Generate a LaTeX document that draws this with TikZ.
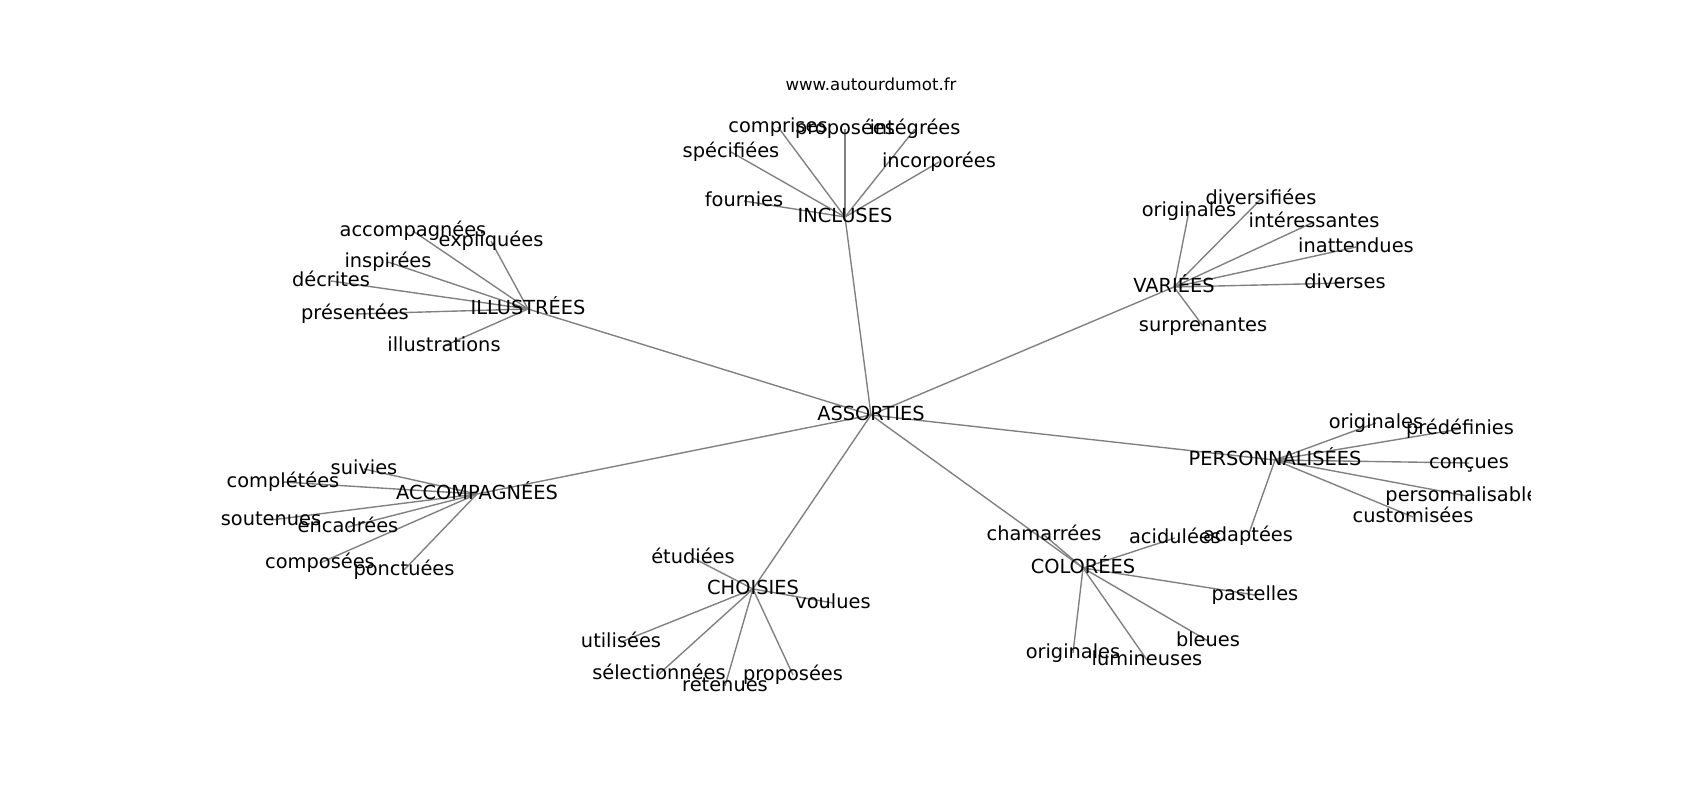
\documentclass[tikz,border=0pt]{standalone}
\usepackage{fontspec}
\setmainfont{DejaVu Sans}
\usetikzlibrary{backgrounds}

\begin{document}
\begin{tikzpicture}[x=0.01in, y=-0.01in,
    mot/.style={inner sep=0pt, text height=12.1pt, text depth=3.5pt, font=\fontsize{14}{17}\selectfont},
    lien/.style={color=gray, line width=1pt}]
  \useasboundingbox (0, 0) rectangle (1700, 800);
  \node(titre) at (871, 84) {\fontsize{12}{14}\selectfont www.autourdumot.fr};
  \begin{scope}
    \clip (212.5, 96) rectangle (1530, 712);
    % centre
    \node[mot](assorties) at (871, 415) {ASSORTIES};
    % incluses
    \node[mot](incluses) at (845, 217) {INCLUSES};
    \node[mot](comprises) at (778, 127) {comprises};
    \node[mot](proposeesA) at (845, 129) {proposées};
    \node[mot](integrees) at (915, 129) {intégrées};
    \node[mot](specifiees) at (731, 152) {spécifiées};
    \node[mot](incorporees) at (939, 162) {incorporées};
    \node[mot](fournies) at (744, 201) {fournies};
    % illustrees
    \node[mot](illustrees) at (528, 309) {ILLUSTRÉES};
    \node[mot](accompagneesA) at (413, 231) {accompagnées};
    \node[mot](expliquees) at (491, 241) {expliquées};
    \node[mot](inspirees) at (388, 262) {inspirées};
    \node[mot](decrites) at (331, 281) {décrites};
    \node[mot](presentees) at (355, 314) {présentées};
    \node[mot](illustrations) at (444, 346) {illustrations};
    % variees
    \node[mot](variees) at (1174, 287) {VARIÉES};
    \node[mot](originalesA) at (1189, 211) {originales};
    \node[mot](diversifiees) at (1261, 199) {diversifiées};
    \node[mot](interessantes) at (1314, 222) {intéressantes};
    \node[mot](inattendues) at (1356, 247) {inattendues};
    \node[mot](diverses) at (1345, 283) {diverses};
    \node[mot](surprenantes) at (1203, 326) {surprenantes};
    % personnalisees
    \node[mot](personnalisees) at (1275, 460) {PERSONNALISÉES};
    \node[mot](originalesB) at (1376, 423) {originales};
    \node[mot](predefinies) at (1460, 429) {prédéfinies};
    \node[mot](concues) at (1469, 463) {conçues};
    \node[mot](personnalisables) at (1467, 496) {personnalisables};
    \node[mot](customisees) at (1413, 517) {customisées};
    \node[mot](adaptees) at (1248, 536) {adaptées};
    % accompagnees
    \node[mot](accompagneesB) at (477, 494) {ACCOMPAGNÉES};
    \node[mot](suivies) at (364, 469) {suivies};
    \node[mot](completees) at (283, 482) {complétées};
    \node[mot](soutenues) at (271, 520) {soutenues};
    \node[mot](encadrees) at (348, 527) {encadrées};
    \node[mot](composees) at (320, 563) {composées};
    \node[mot](ponctuees) at (404, 570) {ponctuées};
    % choisies
    \node[mot](choisies) at (753, 589) {CHOISIES};
    \node[mot](etudiees) at (693, 558) {étudiées};
    \node[mot](voulues) at (833, 603) {voulues};
    \node[mot](utilisees) at (621, 642) {utilisées};
    \node[mot](selectionnees) at (659, 674) {sélectionnées};
    \node[mot](retenues) at (725, 686) {retenues};
    \node[mot](proposeesB) at (793, 675) {proposées};
    % colorees
    \node[mot](colorees) at (1083, 568) {COLORÉES};
    \node[mot](chamarrees) at (1044, 535) {chamarrées};
    \node[mot](acidulees) at (1175, 538) {acidulées};
    \node[mot](pastelles) at (1255, 595) {pastelles};
    \node[mot](bleues) at (1208, 641) {bleues};
    \node[mot](originalesC) at (1073, 653) {originales};
    \node[mot](lumineuses) at (1147, 660) {lumineuses};
  \end{scope}
  \begin{pgfonlayer}{background}
    \draw[lien] (assorties.center)--(incluses.center);
    \draw[lien] (assorties.center)--(illustrees.center);
    \draw[lien] (assorties.center)--(variees.center);
    \draw[lien] (assorties.center)--(personnalisees.center);
    \draw[lien] (assorties.center)--(accompagneesB.center);
    \draw[lien] (assorties.center)--(choisies.center);
    \draw[lien] (assorties.center)--(colorees.center);
    \draw[lien] (incluses.center)--(comprises.center);
    \draw[lien] (incluses.center)--(proposeesA.center);
    \draw[lien] (incluses.center)--(integrees.center);
    \draw[lien] (incluses.center)--(specifiees.center);
    \draw[lien] (incluses.center)--(incorporees.center);
    \draw[lien] (incluses.center)--(fournies.center);
    \draw[lien] (illustrees.center)--(accompagneesA.center);
    \draw[lien] (illustrees.center)--(expliquees.center);
    \draw[lien] (illustrees.center)--(inspirees.center);
    \draw[lien] (illustrees.center)--(decrites.center);
    \draw[lien] (illustrees.center)--(presentees.center);
    \draw[lien] (illustrees.center)--(illustrations.center);
    \draw[lien] (variees.center)--(originalesA.center);
    \draw[lien] (variees.center)--(diversifiees.center);
    \draw[lien] (variees.center)--(interessantes.center);
    \draw[lien] (variees.center)--(inattendues.center);
    \draw[lien] (variees.center)--(diverses.center);
    \draw[lien] (variees.center)--(surprenantes.center);
    \draw[lien] (personnalisees.center)--(originalesB.center);
    \draw[lien] (personnalisees.center)--(predefinies.center);
    \draw[lien] (personnalisees.center)--(concues.center);
    \draw[lien] (personnalisees.center)--(personnalisables.center);
    \draw[lien] (personnalisees.center)--(customisees.center);
    \draw[lien] (personnalisees.center)--(adaptees.center);
    \draw[lien] (accompagneesB.center)--(suivies.center);
    \draw[lien] (accompagneesB.center)--(completees.center);
    \draw[lien] (accompagneesB.center)--(soutenues.center);
    \draw[lien] (accompagneesB.center)--(encadrees.center);
    \draw[lien] (accompagneesB.center)--(composees.center);
    \draw[lien] (accompagneesB.center)--(ponctuees.center);
    \draw[lien] (choisies.center)--(etudiees.center);
    \draw[lien] (choisies.center)--(voulues.center);
    \draw[lien] (choisies.center)--(utilisees.center);
    \draw[lien] (choisies.center)--(selectionnees.center);
    \draw[lien] (choisies.center)--(retenues.center);
    \draw[lien] (choisies.center)--(proposeesB.center);
    \draw[lien] (colorees.center)--(chamarrees.center);
    \draw[lien] (colorees.center)--(acidulees.center);
    \draw[lien] (colorees.center)--(pastelles.center);
    \draw[lien] (colorees.center)--(bleues.center);
    \draw[lien] (colorees.center)--(originalesC.center);
    \draw[lien] (colorees.center)--(lumineuses.center);
  \end{pgfonlayer}
\end{tikzpicture}
\end{document}
